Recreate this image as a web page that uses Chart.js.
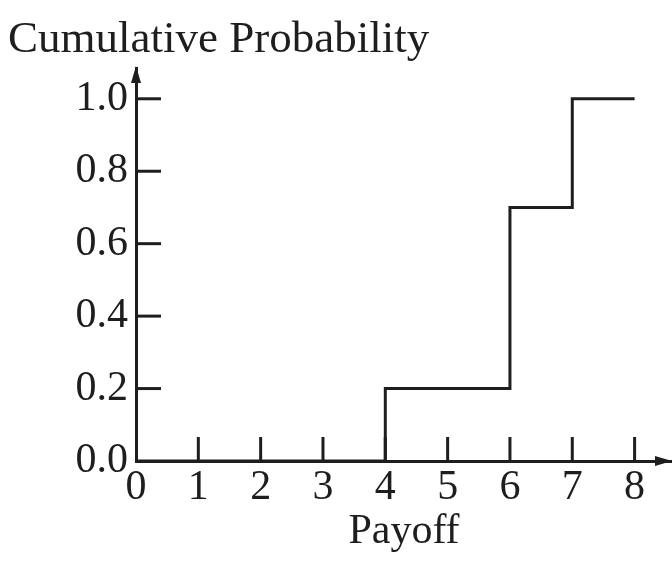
<!DOCTYPE html>
<html><head><meta charset="utf-8">
<script src="https://cdn.jsdelivr.net/npm/chart.js@4"></script>
<style>html,body{margin:0;padding:0;background:#fff}</style>
</head><body>
<canvas id="c" width="672" height="571"></canvas>
<script>
// ---- data ----
const payoffs = [0, 4, 6, 7, 8];
const cumProb = [0, 0.2, 0.7, 1.0, 1.0];
const xTickValues = [0, 1, 2, 3, 4, 5, 6, 7, 8];
const yTickValues = [0, 0.2, 0.4, 0.6, 0.8, 1.0];
const yTickLabels = ['0.0', '0.2', '0.4', '0.6', '0.8', '1.0'];
const yTitle = 'Cumulative Probability';
const xTitle = 'Payoff';

const INK = '#1e1e1e';
const FONT = 'Liberation Serif';

const axisDecor = {
  id: 'axisDecor',
  afterDatasetsDraw(chart) {
    const {ctx, chartArea: a, scales: {x, y}} = chart;
    const y0 = y.getPixelForValue(0), x0 = x.getPixelForValue(0);
    ctx.save();
    ctx.strokeStyle = INK; ctx.lineWidth = 3; ctx.lineCap = 'butt';
    xTickValues.filter(v => v > 0).forEach(v => {
      const px = x.getPixelForValue(v);
      ctx.beginPath(); ctx.moveTo(px, y0); ctx.lineTo(px, y0 - 24); ctx.stroke();
    });
    yTickValues.filter(v => v > 0).forEach(v => {
      const py = y.getPixelForValue(v);
      ctx.beginPath(); ctx.moveTo(x0, py); ctx.lineTo(x0 + 25, py); ctx.stroke();
    });
    ctx.fillStyle = INK;
    ctx.beginPath(); ctx.moveTo(x0, a.top - 2); ctx.lineTo(x0 - 5, a.top + 15); ctx.lineTo(x0 + 5, a.top + 15); ctx.closePath(); ctx.fill();
    ctx.beginPath(); ctx.moveTo(a.right, y0); ctx.lineTo(a.right - 17, y0 - 5); ctx.lineTo(a.right - 17, y0 + 5); ctx.closePath(); ctx.fill();
    ctx.restore();
  }
};

new Chart(document.getElementById('c'), {
  type: 'line',
  data: {
    datasets: [{
      data: payoffs.map((v, i) => ({x: v, y: cumProb[i]})),
      stepped: 'before',
      borderColor: INK,
      borderWidth: 3,
      pointRadius: 0,
      fill: false
    }]
  },
  options: {
    responsive: false,
    animation: false,
    devicePixelRatio: 1,
    layout: {padding: {left: 8, right: 0, top: 10, bottom: 8}},
    plugins: {
      legend: {display: false},
      tooltip: {enabled: false},
      title: {
        display: true, text: yTitle, align: 'start', color: INK,
        font: {family: FONT, size: 45, weight: 'normal'},
        padding: {top: 3, bottom: 1}
      }
    },
    scales: {
      x: {
        type: 'linear', min: 0, max: 8.6,
        afterBuildTicks: s => { s.ticks = xTickValues.map(v => ({value: v})); },
        afterFit: s => { s.height = 102; },
        ticks: {autoSkip: false, maxRotation: 0, color: INK, padding: 2,
          font: {family: FONT, size: 42}, callback: v => String(v)},
        grid: {display: true, drawOnChartArea: false, drawTicks: false},
        border: {display: true, color: INK, width: 3},
        title: {display: true, text: xTitle, color: INK,
          font: {family: FONT, size: 42}, padding: {top: 0, bottom: 6}}
      },
      y: {
        type: 'linear', min: 0, max: 1.085,
        afterBuildTicks: s => { s.ticks = yTickValues.map(v => ({value: v})); },
        afterFit: s => { s.width = 128; },
        ticks: {autoSkip: false, color: INK, padding: 8,
          font: {family: FONT, size: 42},
          callback: (v) => yTickLabels[yTickValues.findIndex(t => Math.abs(t - v) < 1e-9)]},
        grid: {display: true, drawOnChartArea: false, drawTicks: false},
        border: {display: true, color: INK, width: 3}
      }
    }
  },
  plugins: [axisDecor]
});
</script>
</body></html>
